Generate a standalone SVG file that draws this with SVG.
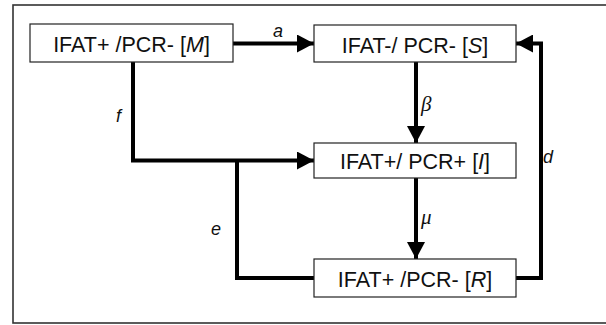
<svg xmlns="http://www.w3.org/2000/svg" width="606" height="325" viewBox="0 0 606 325">
<style>
  .box { fill: #fff; stroke: #222; stroke-width: 1.2; }
  .lbl { font-family: "Liberation Sans", Arial, sans-serif; font-size: 21.5px; fill: #111; text-anchor: middle; }
  .edge { fill: none; stroke: #000; stroke-width: 4; }
  .el { font-family: "Liberation Sans", Arial, sans-serif; font-size: 18px; font-style: italic; fill: #111; }
  .gl { font-family: "Liberation Serif", "Times New Roman", serif; font-size: 21px; font-style: italic; fill: #111; }
</style>
<defs>
  <marker id="ah" markerUnits="userSpaceOnUse" markerWidth="17" markerHeight="18" refX="17" refY="9" orient="auto">
    <path d="M0,0 L17,9 L0,18 z" fill="#000"/>
  </marker>
</defs>
<rect x="13" y="5" width="600" height="318" fill="#fff" stroke="#333" stroke-width="1.6"/>
<g id="connectors">
  <path class="edge" d="M233,43.5 H314" marker-end="url(#ah)"/>
  <path class="edge" d="M133,62 V160.5 H314" marker-end="url(#ah)"/>
  <path class="edge" d="M416,62 V143" marker-end="url(#ah)"/>
  <path class="edge" d="M416,178 V259" marker-end="url(#ah)"/>
  <path class="edge" d="M314,278 H237 V160.5"/>
  <path class="edge" d="M516,278 H541 V43.5 H516" marker-end="url(#ah)"/>
  <text class="el" x="273" y="37">a</text>
  <text class="el" x="116" y="122">f</text>
  <text class="gl" x="421" y="111">β</text>
  <text class="gl" x="421" y="224">μ</text>
  <text class="el" x="211" y="235">e</text>
  <text class="el" x="543" y="163">d</text>
</g>
<g id="nodeM">
  <rect class="box" x="30" y="24" width="203" height="38"/>
  <text class="lbl" x="131.5" y="51.5">IFAT+ /PCR- [<tspan font-style="italic">M</tspan>]</text>
</g>
<g id="nodeS">
  <rect class="box" x="314" y="25" width="202" height="37"/>
  <text class="lbl" x="415" y="52.5">IFAT-/ PCR- [<tspan font-style="italic">S</tspan>]</text>
</g>
<g id="nodeI">
  <rect class="box" x="314" y="143" width="202" height="35"/>
  <text class="lbl" x="415" y="169">IFAT+/ PCR+ [<tspan font-style="italic">I</tspan>]</text>
</g>
<g id="nodeR">
  <rect class="box" x="314" y="259" width="202" height="38"/>
  <text class="lbl" x="415" y="286.5">IFAT+ /PCR- [<tspan font-style="italic">R</tspan>]</text>
</g>
</svg>
